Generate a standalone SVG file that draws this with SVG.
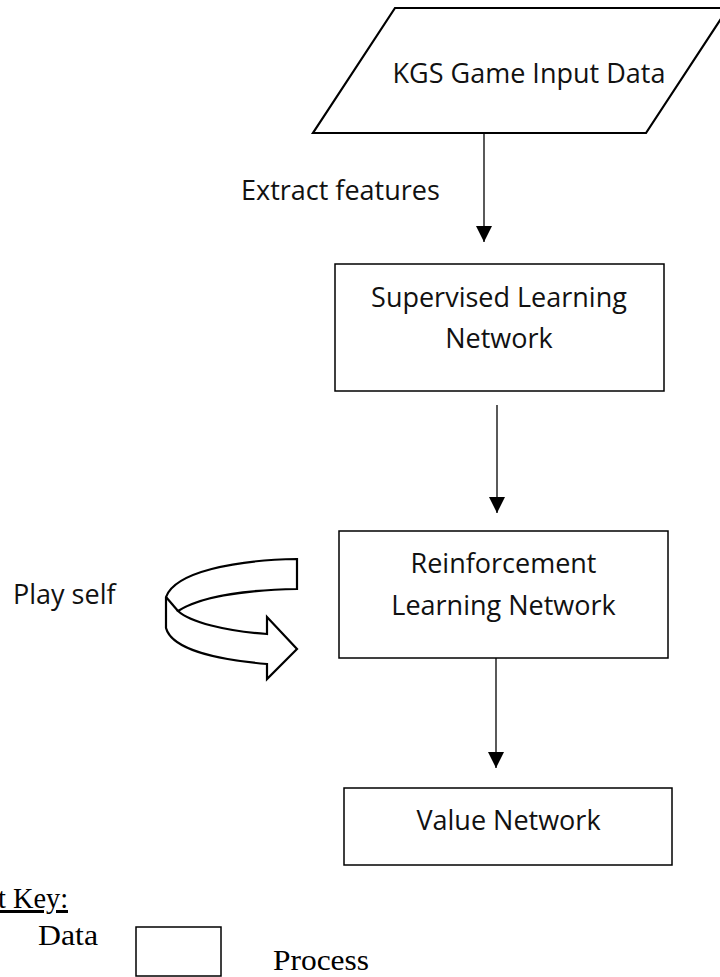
<svg xmlns="http://www.w3.org/2000/svg" width="720" height="977" viewBox="0 0 720 977">
  <style>
    .shape { fill: #ffffff; stroke: #000000; stroke-width: 1.5; }
    .thick { fill: #ffffff; stroke: #000000; stroke-width: 2.2; stroke-linejoin: miter; }
    .conn { fill: none; stroke: #000000; stroke-width: 1.3; }
    .lbl { font-family: "Open Sans", "Noto Sans", "DejaVu Sans", sans-serif; font-size: 27px; fill: #111111; }
    .key { font-family: "Liberation Serif", "DejaVu Serif", serif; font-size: 30px; fill: #000000; }
  </style>
  <defs>
    <marker id="head" viewBox="0 0 16 16" refX="16" refY="8" markerWidth="16" markerHeight="16" markerUnits="userSpaceOnUse" orient="auto">
      <path d="M0,0 L16,8 L0,16 Z" fill="#000000"/>
    </marker>
  </defs>

  <!-- input data (parallelogram) -->
  <g id="kgs-input">
    <polygon class="thick" points="395,8 728,8 646,133 313,133"/>
    <text class="lbl" x="529" y="83" text-anchor="middle">KGS Game Input Data</text>
  </g>

  <!-- process boxes -->
  <g id="supervised">
    <rect class="shape" x="335" y="264" width="329" height="127"/>
    <text class="lbl" x="499" y="307" text-anchor="middle">Supervised Learning</text>
    <text class="lbl" x="499" y="348" text-anchor="middle">Network</text>
  </g>

  <g id="reinforcement">
    <rect class="shape" x="339" y="531" width="329" height="127"/>
    <text class="lbl" x="503.5" y="573" text-anchor="middle">Reinforcement</text>
    <text class="lbl" x="503.5" y="615" text-anchor="middle">Learning Network</text>
  </g>

  <g id="value">
    <rect class="shape" x="344" y="788" width="328" height="77"/>
    <text class="lbl" x="508.5" y="830" text-anchor="middle">Value Network</text>
  </g>

  <!-- self-play loop: curved ribbon arrow -->
  <g id="play-self">
    <path class="thick" d="M297,559 C235,560 175,572 166,597 L166,628 C172,650 220,660 267,664 L267,679 L297,649 L267,617 L267,634 C225,631 190,622 178,611 C198,598 240,590 297,589 Z"/>
    <line class="thick" x1="166" y1="597" x2="178" y2="611"/>
    <text class="lbl" x="13" y="604">Play self</text>
  </g>

  <!-- connectors -->
  <g id="connectors">
    <line class="conn" x1="484" y1="133" x2="484" y2="242" marker-end="url(#head)"/>
    <text class="lbl" x="241" y="200">Extract features</text>
    <line class="conn" x1="497" y1="405" x2="497" y2="513" marker-end="url(#head)"/>
    <line class="conn" x1="496" y1="658" x2="496" y2="768" marker-end="url(#head)"/>
  </g>

  <!-- legend -->
  <g id="legend">
    <text class="key" x="-2" y="908" text-decoration="underline" textLength="70" lengthAdjust="spacingAndGlyphs">t Key:</text>
    <text class="key" x="38" y="945" textLength="60" lengthAdjust="spacingAndGlyphs">Data</text>
    <rect class="shape" x="136" y="927" width="85" height="49" stroke-width="1.2"/>
    <text class="key" x="273" y="970" textLength="96" lengthAdjust="spacingAndGlyphs">Process</text>
  </g>
</svg>
